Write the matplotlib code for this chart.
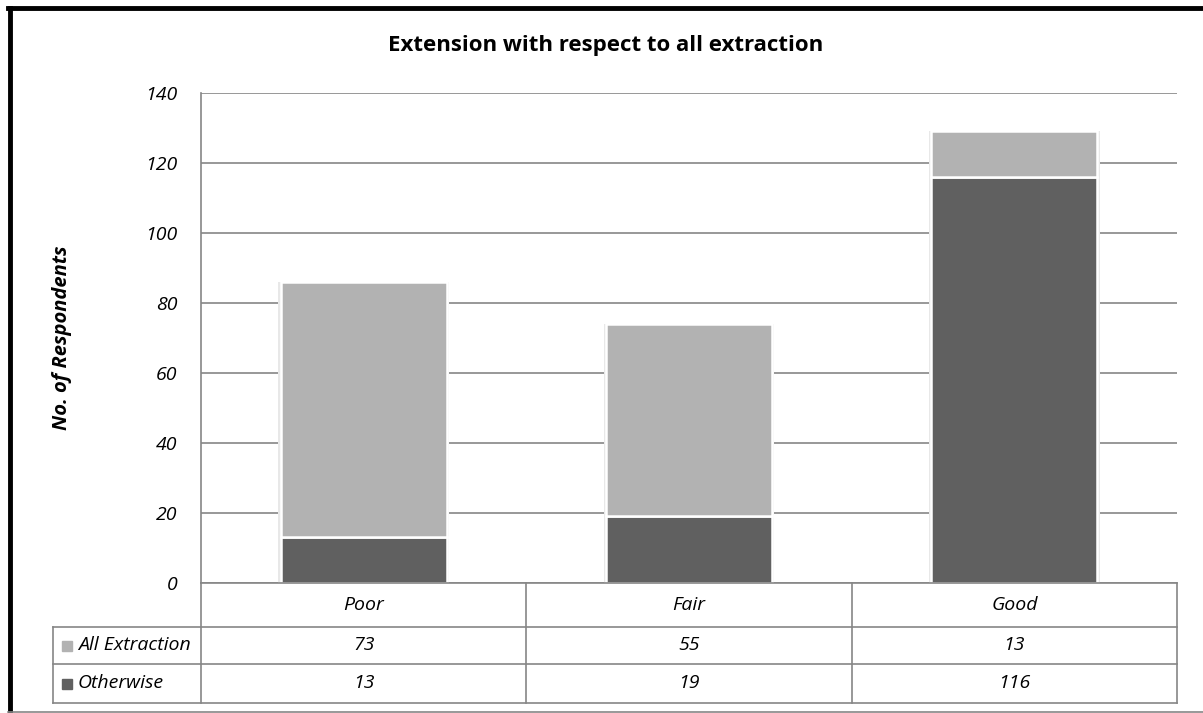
import matplotlib
matplotlib.use("Agg")
import matplotlib.pyplot as plt
import numpy as np

# Data
categories = ["Poor", "Fair", "Good"]
all_extraction = [73, 55, 13]
otherwise = [13, 19, 116]
series_names = ["All Extraction", "Otherwise"]
yticks = [0, 20, 40, 60, 80, 100, 120, 140]

light = "#B2B2B2"
dark = "#606060"
grid_c = "#868686"

plt.rcParams["font.family"] = ["Open Sans", "DejaVu Sans"]
fs = 14

W, H = 1203, 713
fig = plt.figure(figsize=(W / 100, H / 100), dpi=100)

def fx(px):
    return px / W

def fy(py):
    return 1 - py / H

# plot area in pixels
x0, x1 = 201, 1177
ytop, ybot = 92.5, 583
ax = fig.add_axes([fx(x0), fy(ybot), fx(x1) - fx(x0), fy(ytop) - fy(ybot)])

x = np.arange(len(categories))
# soft shadow behind the bars
totals = [a + b for a, b in zip(all_extraction, otherwise)]
ax.bar(x, totals, width=0.525, color="#E8E8E8", linewidth=0, zorder=2)
ax.bar(x, otherwise, width=0.51, color=dark, edgecolor="white", linewidth=1.8, zorder=3)
ax.bar(x, all_extraction, bottom=otherwise, width=0.51, color=light,
       edgecolor="white", linewidth=1.8, zorder=3)

ax.set_xlim(-0.5, len(categories) - 0.5)
ax.set_ylim(0, 140)
ax.set_yticks(yticks)
ax.set_yticklabels([str(v) for v in yticks], fontstyle="italic", fontsize=fs)
ax.tick_params(axis="y", length=0, pad=17)
ax.set_xticks([])
ax.grid(axis="y", color=grid_c, linewidth=1.2, zorder=0)
for s in ["top", "right", "bottom"]:
    ax.spines[s].set_visible(False)
ax.spines["left"].set_color(grid_c)
ax.spines["left"].set_linewidth(1.2)

# data table under the plot
lab_left = 53
row_y = [583, 627, 664, 703]
tax = fig.add_axes([fx(lab_left), fy(row_y[-1]), fx(x1) - fx(lab_left), fy(row_y[0]) - fy(row_y[-1])])
tax.set_xlim(lab_left, x1)
tax.set_ylim(row_y[-1], row_y[0])
tax.axis("off")
colw = (x1 - x0) / len(categories)
col_edges = [x0 + i * colw for i in range(len(categories) + 1)]
lw = 1.2
# horizontal lines
tax.plot([x0, x1], [row_y[0], row_y[0]], color=grid_c, lw=lw, clip_on=False)
for yy in row_y[1:]:
    tax.plot([lab_left, x1], [yy, yy], color=grid_c, lw=lw, clip_on=False)
# vertical lines
for xe in col_edges:
    tax.plot([xe, xe], [row_y[0], row_y[-1]], color=grid_c, lw=lw, clip_on=False)
tax.plot([lab_left, lab_left], [row_y[1], row_y[-1]], color=grid_c, lw=lw, clip_on=False)

for i, c in enumerate(categories):
    cx = (col_edges[i] + col_edges[i + 1]) / 2
    tax.text(cx, (row_y[0] + row_y[1]) / 2, c, ha="center", va="center",
             fontstyle="italic", fontsize=fs)
    tax.text(cx, (row_y[1] + row_y[2]) / 2, str(all_extraction[i]), ha="center", va="center",
             fontstyle="italic", fontsize=fs)
    tax.text(cx, (row_y[2] + row_y[3]) / 2, str(otherwise[i]), ha="center", va="center",
             fontstyle="italic", fontsize=fs)

for r, (name, col) in enumerate(zip(series_names, [light, dark])):
    cy = (row_y[r + 1] + row_y[r + 2]) / 2
    tax.plot([67], [cy], marker="s", markersize=6.5, color=col, clip_on=False)
    tax.text(78, cy, name, ha="left", va="center", fontstyle="italic", fontsize=fs)

# title and y label
fig.text(fx(606), fy(45), "Extension with respect to all extraction", ha="center", va="center",
         fontweight="bold", fontsize=16)
fig.text(fx(62), fy(338), "No. of Respondents", ha="center", va="center", rotation=90,
         fontweight="bold", fontstyle="italic", fontsize=14.5)

# outer frame: black left and top, grey bottom
fig.add_artist(plt.Line2D([fx(9.5), fx(9.5)], [fy(7.5), fy(713)], color="black", lw=3.5))
fig.add_artist(plt.Line2D([fx(8), fx(1203)], [fy(7.5), fy(7.5)], color="black", lw=3.5))
fig.add_artist(plt.Line2D([fx(8), fx(1203)], [fy(711.5), fy(711.5)], color=grid_c, lw=1.2))

fig.savefig("out.png", dpi=100)
